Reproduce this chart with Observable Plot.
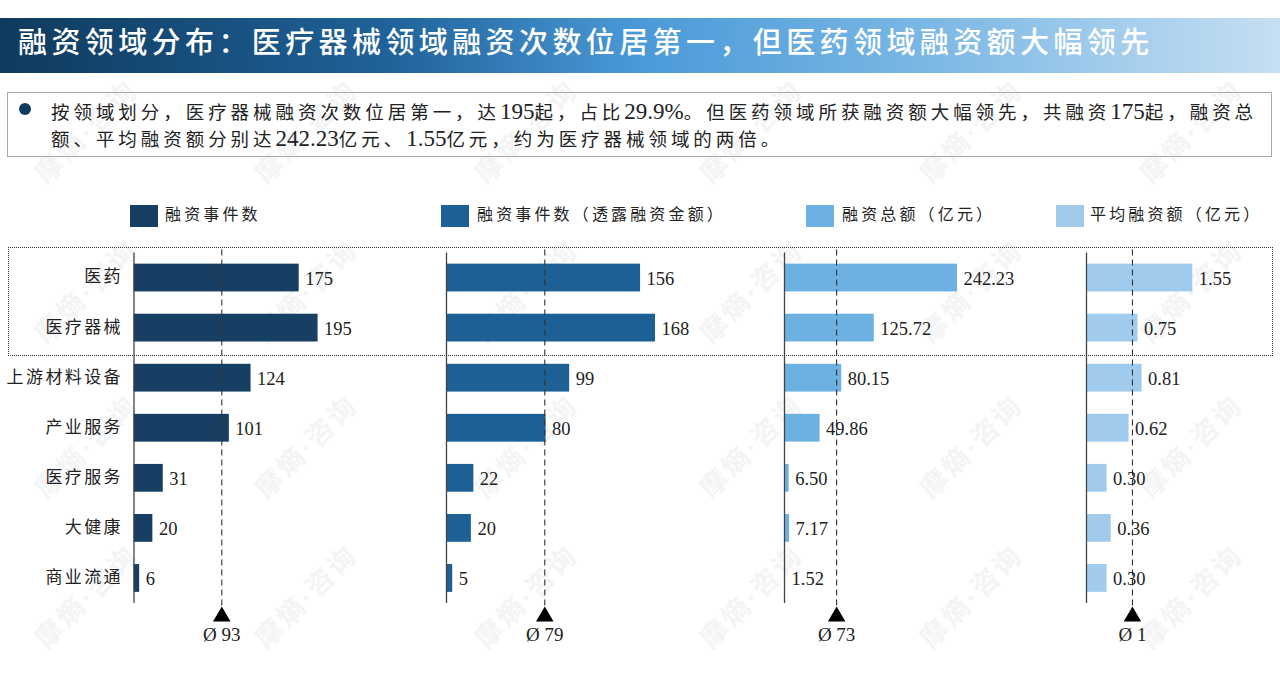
<!DOCTYPE html>
<html lang="zh">
<head>
<meta charset="utf-8">
<script src="https://cdn.jsdelivr.net/npm/d3@7"></script>
<script src="https://cdn.jsdelivr.net/npm/@observablehq/plot@0.6"></script>
<style>
  html, body { margin:0; padding:0; background:#fff; width:1280px; height:673px; overflow:hidden; }
  body { font-family:"Liberation Serif","Noto Sans CJK SC",serif; color:#222; position:relative; }
  .abs { position:absolute; white-space:nowrap; }
  #band { left:0; top:18px; width:1280px; height:55px; background:linear-gradient(90deg,#0f3a5c 0%,#1f6199 30%,#4a9ad8 50%,#7ab7e4 72%,#c6dff3 100%); }
  #title { left:18px; top:21px; font-size:29px; line-height:44px; letter-spacing:4.4px; color:#fff; font-weight:500; }
  #box { left:7px; top:92px; width:1263px; height:63px; border:1px solid #a8a8a8; }
  #dot { left:19px; top:103px; width:12px; height:12px; border-radius:50%; background:#0f3a5c; }
  .line { left:51px; font-size:18.5px; line-height:26px; letter-spacing:3.95px; }
  .line span { letter-spacing:0; font-size:23px; }
  .swatch { top:205px; width:28px; height:22px; }
  .leg { top:203px; font-size:16px; line-height:24px; letter-spacing:3.15px; }
  #focus { left:8px; top:247px; width:1263px; height:107px; border:1px dotted #333; }
  .panel { position:absolute; top:240px; }
  .panel svg { overflow:visible; display:block; }
  .panel [aria-label="y-axis tick label"] { letter-spacing:2.4px; }
  .wm { font-size:27px; color:#f3f4f5; transform:translate(-50%,-50%) rotate(-45deg); letter-spacing:3px; font-weight:700; }
</style>
</head>
<body>
<div id="marks"></div>
<div class="abs" id="band"></div>
<div class="abs" id="title">融资领域分布：医疗器械领域融资次数位居第一，但医药领域融资额大幅领先</div>
<div class="abs" id="box"></div>
<div class="abs" id="dot"></div>
<div class="abs line" style="top:99px">按领域划分，医疗器械融资次数位居第一，达<span>195</span>起，占比<span>29.9%</span>。但医药领域所获融资额大幅领先，共融资<span>175</span>起，融资总</div>
<div class="abs line" style="top:126px">额、平均融资额分别达<span>242.23</span>亿元、<span>1.55</span>亿元，约为医疗器械领域的两倍。</div>
<div id="legend"></div>
<div class="abs" id="focus"></div>
<div id="charts"></div>
<script>
const categories = ["医药","医疗器械","上游材料设备","产业服务","医疗服务","大健康","商业流通"];
const eventCounts = [175,195,124,101,31,20,6];
const disclosedCounts = [156,168,99,80,22,20,5];
const totalAmounts = [242.23,125.72,80.15,49.86,6.50,7.17,1.52];
const averageAmounts = [1.55,0.75,0.81,0.62,0.30,0.36,0.30];
const seriesNames = ["融资事件数","融资事件数（透露融资金额）","融资总额（亿元）","平均融资额（亿元）"];
const seriesColors = ["#163f63","#1c6096","#6db0e2","#a0cbec"];
const meanValues = [93,79,73,0.67];
const meanLabels = ["Ø 93","Ø 79","Ø 73","Ø 1"];
const watermarkText = "摩熵·咨询";

const wmHost = document.getElementById("marks");
[130,290,445,595].forEach(y=>{
  [85,305,525,750,970,1190].forEach(x=>{
    const w=document.createElement("div"); w.className="abs wm";
    w.style.left=x+"px"; w.style.top=y+"px"; w.textContent=watermarkText;
    wmHost.append(w);
  });
});

const legendLayout = [[130,165],[441,477],[806,842],[1056,1090]];
const legend = document.getElementById("legend");
seriesNames.forEach((name,i)=>{
  const s=document.createElement("div"); s.className="abs swatch";
  s.style.left=legendLayout[i][0]+"px"; s.style.background=seriesColors[i];
  const t=document.createElement("div"); t.className="abs leg";
  t.style.left=legendLayout[i][1]+"px"; t.textContent=name;
  legend.append(s,t);
});

const panels = [
  {values:eventCounts, left:0, width:440, axis:133.5, k:0.944, fmt:d3.format("d")},
  {values:disclosedCounts, left:440, width:340, axis:6, k:1.244, fmt:d3.format("d")},
  {values:totalAmounts, left:780, width:300, axis:4, k:0.714, fmt:d3.format(".2f")},
  {values:averageAmounts, left:1080, width:200, axis:6, k:68.6, fmt:d3.format(".2f")}
];
const charts = document.getElementById("charts");
panels.forEach((p,i)=>{
  const rows = categories.map((c,j)=>({category:c,value:p.values[j]}));
  const maxV = (p.width-p.axis)/p.k;
  const marks = [
    Plot.barX(rows,{x:"value",y:"category",fill:seriesColors[i]}),
    Plot.ruleX([0],{stroke:"#444",strokeWidth:1.3}),
    Plot.ruleX([meanValues[i]],{stroke:"#333",strokeWidth:1.1,strokeDasharray:"6,4",insetBottom:-5,insetTop:-3}),
    Plot.text(rows,{x:"value",y:"category",text:d=>p.fmt(d.value),textAnchor:"start",dx:6,dy:1,fontSize:18.5,fill:"#222"}),
    Plot.dot([meanValues[i]],{x:d=>d,frameAnchor:"bottom",dy:13,symbol:"triangle",r:6.5,fill:"#000"}),
    Plot.text([meanLabels[i]],{x:()=>meanValues[i],frameAnchor:"bottom",dy:37,text:d=>d,fontSize:19,fill:"#222"})
  ];
  if(i===0) marks.unshift(Plot.axisY({tickSize:0,tickPadding:11,fontSize:17,label:null,anchor:"left",dy:-1}));
  const chart = Plot.plot({
    width:p.width, height:410,
    marginTop:12.5, marginBottom:47, marginLeft:p.axis, marginRight:0,
    x:{domain:[0,maxV],range:[p.axis,p.width],axis:null},
    y:{domain:categories,paddingInner:0.445,paddingOuter:0.2225,round:false,axis:null,label:null},
    style:{background:"transparent",fontFamily:'"Liberation Serif","Noto Sans CJK SC",serif',color:"#222"},
    marks
  });
  const wrap=document.createElement("div"); wrap.className="panel"; wrap.style.left=p.left+"px";
  wrap.append(chart); charts.append(wrap);
});
</script>
</body>
</html>
